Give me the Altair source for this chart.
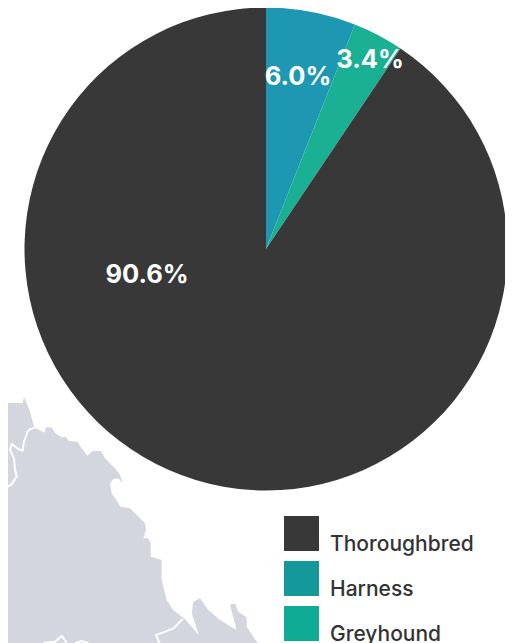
import altair as alt
import pandas as pd

breeds = ["Harness", "Greyhound", "Thoroughbred"]
shares = [6.0, 3.4, 90.6]
pie_colors = ["#1e98b2", "#1ab094", "#383838"]
legend_order = ["Thoroughbred", "Harness", "Greyhound"]
legend_colors = ["#383838", "#149899", "#10ab94"]

land_x = [0,15,68,72,90,103,135,137,155,165,185,197,207,232,245,262,278,303,315,345,360,368,355,340,330,335,362,390,435,438,430,445,452,452,485,485,500,520,555,597,575,580,600,625,660,710,690,705,715,740,740,770,775,0]
land_y = [58,68,70,50,95,143,158,142,142,160,172,170,183,185,205,227,213,213,235,265,285,310,295,297,312,340,380,385,430,450,475,475,490,530,540,600,660,690,718,765,700,665,655,690,720,750,675,670,695,712,740,785,789,789]
border_groups = {
    "a": ([103,85,72,68,55,35,30,42,45,50,35,10,0], [143,150,185,212,207,192,210,235,268,290,312,330,332]),
    "b": ([548,520,490,468,478], [717,745,757,765,789]),
    "c": ([130,165,185,195,200], [789,785,768,780,789]),
    "d": ([225,245,265], [789,783,789]),
}

X = alt.Scale(domain=[24, 1515], range=[0, 497], zero=False, nice=False)
Y = alt.Scale(domain=[-1116, 789], range=[0, 635], zero=False, nice=False)

land = pd.DataFrame({"x": land_x, "y": land_y, "i": range(len(land_x))})
land_mark = alt.Chart(land).mark_line(fill="#d3d6de", stroke="#d3d6de", strokeWidth=0, clip=True).encode(
    x=alt.X("x:Q", scale=X, axis=None),
    y=alt.Y("y:Q", scale=Y, axis=None),
    order="i:Q",
)
rows = []
for key, (xs, ys) in border_groups.items():
    for i, (a, b) in enumerate(zip(xs, ys)):
        rows.append({"g": key, "x": a, "y": b, "i": i})
border_mark = alt.Chart(pd.DataFrame(rows)).mark_line(color="white", strokeWidth=2, clip=True).encode(
    x=alt.X("x:Q", scale=X, axis=None),
    y=alt.Y("y:Q", scale=Y, axis=None),
    detail="g:N",
    order="i:Q",
)

pie = pd.DataFrame({"breed": breeds, "share": shares, "rank": [0, 1, 2]})
cx, cy, r = 258, 241, 241.5
base = alt.Chart(pie).encode(
    theta=alt.Theta("share:Q", stack=True),
    order=alt.Order("rank:Q"),
    x=alt.value(cx),
    y=alt.value(cy),
)
arcs = base.mark_arc(outerRadius=r).encode(
    color=alt.Color("breed:N", scale=alt.Scale(domain=breeds, range=pie_colors), legend=None)
)
key = base.mark_arc(outerRadius=r, opacity=0).encode(
    fill=alt.Fill(
        "breed:N",
        scale=alt.Scale(domain=legend_order, range=legend_colors),
        legend=alt.Legend(
            title=None, orient="none", legendX=276, legendY=508, symbolType="square",
            symbolSize=1225, symbolOpacity=1, symbolStrokeWidth=0, rowPadding=6,
            labelFont="Inter", labelFontSize=21, labelFontWeight=500, labelColor="#333333",
            labelBaseline="top", labelOffset=11, labelLimit=220, padding=0,
        ),
    )
)

def label(txt, dx, dy):
    return alt.Chart(alt.Data(values=[{"t": txt}])).mark_text(
        font="Inter", fontSize=25.5, fontWeight=700, color="white", dx=dx, dy=dy
    ).encode(text="t:N", x=alt.value(cx), y=alt.value(cy))

chart = alt.layer(
    land_mark, border_mark, arcs, key,
    label("6.0%", 32, -172), label("3.4%", 104, -189), label("90.6%", -119, 26),
).resolve_scale(color="independent", fill="independent").properties(
    width=497, height=635, padding=0, autosize=alt.AutoSizeParams(type="none"),
    background="white",
).configure_view(stroke=None)

chart.save("out.html", embed_options={"renderer": "svg", "actions": False})
